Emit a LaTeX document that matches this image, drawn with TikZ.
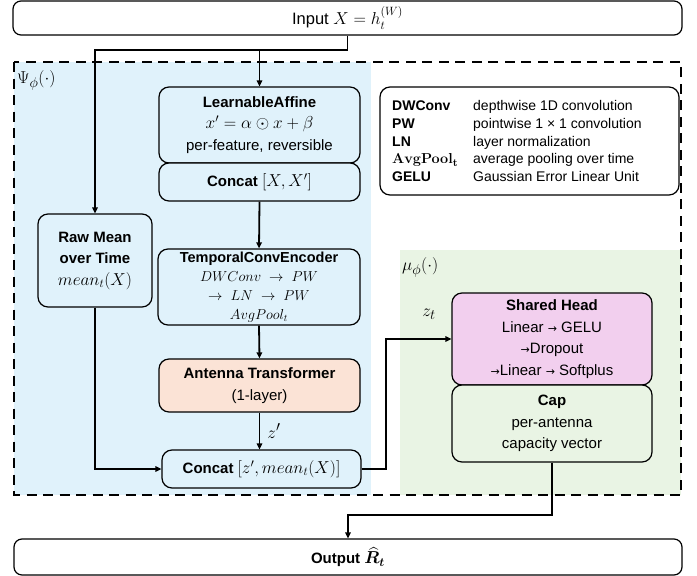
\documentclass[tikz,border=0pt]{standalone}
\usepackage[no-math]{fontspec}
\usepackage{amsmath,amssymb,bm}
\setmainfont{Liberation Sans}
\newfontfamily\arrowfont{DejaVu Sans}
\usetikzlibrary{arrows.meta}
\newcommand{\sarr}{{\arrowfont\fontsize{11}{11}\selectfont →}}
\newcommand{\mm}[1]{{\fontsize{16.5}{20}\selectfont$#1$}}
\definecolor{bluebg}{RGB}{224,242,251}
\definecolor{greenbg}{RGB}{233,244,228}
\definecolor{peach}{RGB}{251,227,214}
\definecolor{pinkbox}{RGB}{242,207,238}
\tikzset{
  box/.style={draw, line width=1.2pt, rounded corners=10pt, align=center, inner sep=0pt,
    font=\fontsize{15}{21.5}\selectfont},
  ln/.style={line width=1.8pt},
  arr/.style={line width=1.8pt, -{Triangle[length=6pt,width=5.5pt]}},
  lbl/.style={inner sep=0pt, font=\fontsize{19}{19}\selectfont},
}
\begin{document}
\begin{tikzpicture}[x=1pt,y=-1pt]
\useasboundingbox (0,0) rectangle (697,576);
% backgrounds
\fill[bluebg] (14,62) rectangle (371,495);
\fill[greenbg] (400,250) rectangle (681,495);
\draw[line width=2.2pt, dash pattern=on 10pt off 6.5pt] (14,62) rectangle (681,495);
\node[lbl, anchor=west] (psi) at (17,80) {$\Psi_\phi(\cdot)$};
\node[lbl, anchor=west] (mu) at (402,267) {$\mu_\phi(\cdot)$};

% input / output
\node[box, rounded corners=8pt, fill=white, minimum width=669pt, minimum height=34pt,
  font=\fontsize{16.5}{20}\selectfont] (input) at (347.5,18) {Input {\fontsize{18}{20}\selectfont$X = h_t^{(W)}$}};
\node[box, rounded corners=8pt, fill=white, minimum width=668pt, minimum height=36pt,
  font=\fontsize{15}{20}\selectfont] (output) at (348,557) {\textbf{Output}\;\mm{\bm{\widehat{R}_t}}};

% left column
\node[box, fill=bluebg, minimum width=201pt, minimum height=76pt] (la) at (259.5,125)
  {\textbf{LearnableAffine}\\ \mm{x' = \alpha \odot x + \beta}\\ per-feature, reversible};
\node[box, fill=bluebg, minimum width=201pt, minimum height=38pt] (cc1) at (259.5,182)
  {\textbf{Concat} \mm{[X, X']}};
\node[box, fill=bluebg, minimum width=202pt, minimum height=76pt,
  font=\fontsize{14.5}{19}\selectfont] (tce) at (259,287)
  {\textbf{TemporalConvEncoder}\\ $DWConv \;\rightarrow\; PW$\\ $\rightarrow\; LN \;\rightarrow\; PW$\\ $AvgPool_t$};
\node[box, fill=peach, minimum width=201pt, minimum height=53pt] (at) at (259.5,385.5)
  {\textbf{Antenna Transformer}\\ (1-layer)};
\node[box, fill=bluebg, minimum width=199pt, minimum height=38pt] (cc2) at (261.5,469)
  {\textbf{Concat} \mm{[z', mean_t(X)]}};
\node[box, fill=bluebg, minimum width=114pt, minimum height=93pt] (raw) at (95,260.5)
  {\textbf{Raw Mean}\\ \textbf{over Time}\\ \mm{mean_t(X)}};

% legend
\node[box, fill=white, minimum width=299pt, minimum height=108pt] (legend) at (529.5,141) {};
\node[anchor=west, inner sep=0pt, align=left, font=\fontsize{14}{17.8}\selectfont] (legtxt) at (392,142.5)
  {\begin{tabular}{@{}p{81pt}@{}l@{}}
   \textbf{DWConv} & depthwise 1D convolution\\
   \textbf{PW} & pointwise 1 × 1 convolution\\
   \textbf{LN} & layer normalization\\
   {\fontsize{15}{17}\selectfont$\mathbf{AvgPool_t}$} & average pooling over time\\
   \textbf{GELU} & Gaussian Error Linear Unit
   \end{tabular}};

% right column
\node[box, fill=pinkbox, minimum width=200pt, minimum height=92pt] (sh) at (552,339)
  {\textbf{Shared Head}\\ Linear \sarr{} GELU\\ \sarr Dropout\\ \sarr Linear \sarr{} Softplus};
\node[box, fill=greenbg, minimum width=200pt, minimum height=77pt] (cap) at (552,423.5)
  {\textbf{Cap}\\ per-antenna\\ capacity vector};
\node[lbl] (zt) at (429,314) {$z_t$};

% connectors
\draw[ln] (input.south) -- ++(0,14) coordinate (sp);
\draw[arr] (sp) -| (raw.north);
\draw[arr] (la.north |- sp) -- (la.north);
\draw[arr] (cc1.south) -- (tce.north);
\draw[arr] (tce.south) -- (at.north);
\draw[arr] (at.south) -- node[right, inner sep=7pt, font=\fontsize{19}{19}\selectfont] (zp) {$z'$} (at.south |- cc2.north);
\draw[arr] (raw.south) |- (cc2.west);
\draw[arr] (cc2.east) -- ++(24,0) coordinate (bend) |- (sh.west);
\draw[arr] (cap.south) -- ++(0,52) coordinate (bend2) -| (output.north);
\end{tikzpicture}
\end{document}
